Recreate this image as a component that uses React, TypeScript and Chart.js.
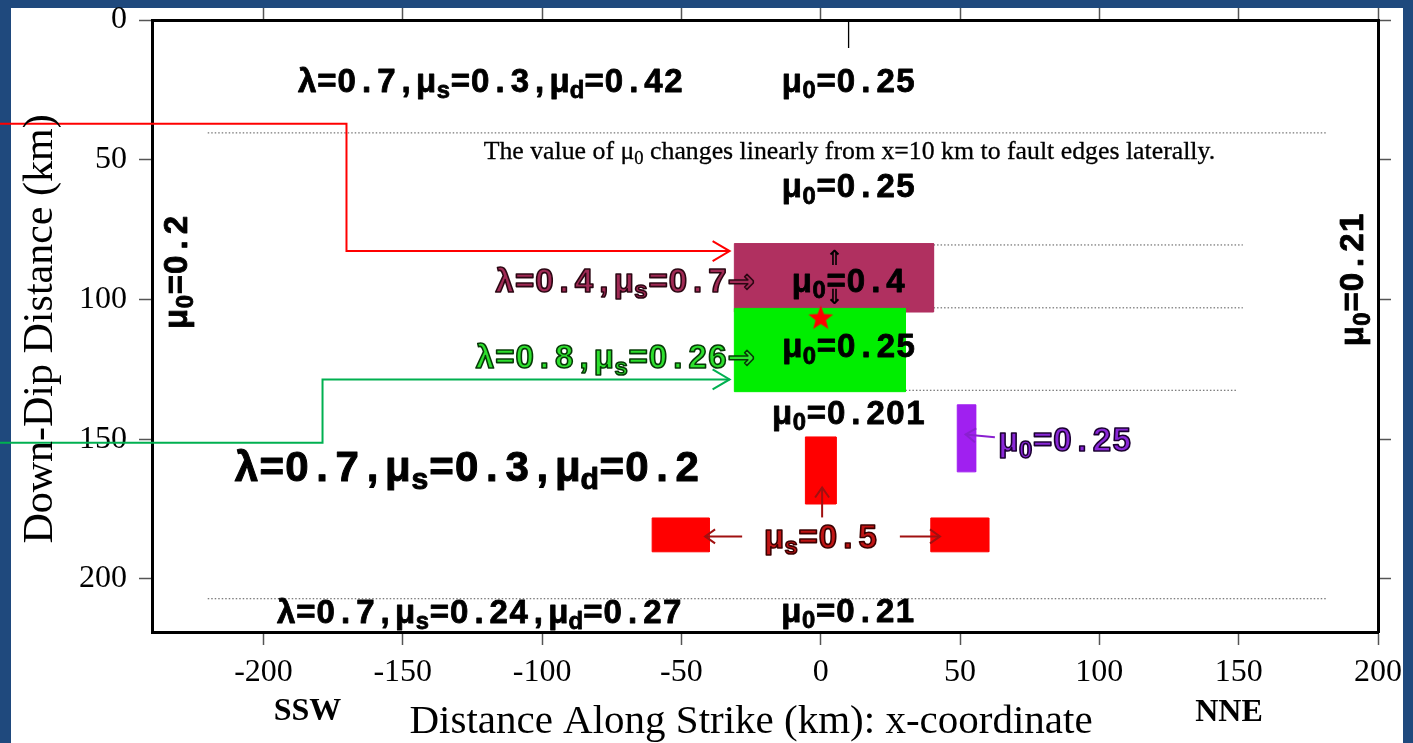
import React, { useEffect, useRef } from 'react';
import { Chart, registerables } from 'chart.js';

Chart.register(...registerables);

// ---------------- data (km) ----------------
const X_TICKS = [-200, -150, -100, -50, 0, 50, 100, 150, 200];
const Y_TICKS = [0, 50, 100, 150, 200];
const X_MIN = -240;
const X_MAX = 200;
const Y_MIN = 0;
const Y_MAX = 219;

// fault patches: maroon, green, red (top), red (left), red (right), purple
const PATCH_X0 = [-31, -31, -5.5, -60.5, 39.5, 49];
const PATCH_X1 = [40.5, 30.4, 5.5, -40, 60.3, 55.6];
const PATCH_Y0 = [80, 103.2, 149.2, 178.2, 178.2, 137.7];
const PATCH_Y1 = [104.5, 133, 173.2, 190.3, 190.3, 161.7];

// dotted boundaries
const DOT_Y = [40.4, 80.5, 103, 132.5, 207.1];
const DOT_X0 = [-220, 40.5, 40.5, 30.4, -220];
const DOT_X1 = [181.5, 151.5, 151.5, 149.5, 181.5];

// x = 10 km marker
const MARK_X = [10, 10];
const MARK_Y = [0, 10];

// hypocentre
const STAR_X = [0];
const STAR_Y = [106.8];

// connectors
const RED_X = [-300, -170.2, -170.2, -32.7];
const RED_Y = [37.1, 37.1, 82.7, 82.7];
const GREEN_X = [-300, -178.8, -178.8, -32.7];
const GREEN_Y = [151.3, 151.3, 128.6, 128.6];

// small arrows
const ARROW_X0 = [-28.2, 28.4, 0.5, 62.5];
const ARROW_Y0 = [184.8, 184.8, 178, 149.3];
const ARROW_X1 = [-41.5, 42.8, 0.5, 52];
const ARROW_Y1 = [184.8, 184.8, 167.3, 148.3];

// labels ("_x" = subscript x)
const LABEL_TEXT = [
  'λ=0.7,μ_s=0.3,μ_d=0.42',
  'μ_0=0.25',
  'μ_0=0.25',
  'μ_0=0.2',
  'μ_0=0.21',
  'λ=0.4,μ_s=0.7→',
  'μ_0=0.4',
  'λ=0.8,μ_s=0.26→',
  'μ_0=0.25',
  'μ_0=0.201',
  'μ_0=0.25',
  'λ=0.7,μ_s=0.3,μ_d=0.2',
  'μ_s=0.5',
  'λ=0.7,μ_s=0.24,μ_d=0.27',
  'μ_0=0.21',
];
const LABEL_X = [-118.6, 10, 10, -227.5, 194.6, -23.6, 10, -23.6, 10.1, 10, 63.7, -127, 0, -122.6, 9.8];
const LABEL_Y = [25.6, 25.6, 63.5, 90.2, 92.9, 97.2, 97.2, 124.5, 120.7, 144.4, 154.4, 164.9, 188.8, 215.7, 215.3];

const NOTE_TEXT = 'The value of μ_0 changes linearly from x=10 km to fault edges laterally.';
const NOTE_X = 10.3;
const NOTE_Y = 49.7;

const DBL_TEXT = ['⇑', '⇓'];
const DBL_X = [5, 5];
const DBL_Y = [85.7, 99.6];

const X_TITLE = 'Distance Along Strike (km): x-coordinate';
const Y_TITLE = 'Down-Dip Distance (km)';
const DIR_TEXT = ['SSW', 'NNE'];

// ---------------- styles ----------------
const PATCH_COLORS = ['#b03060', '#00ee00', '#ff0000', '#ff0000', '#ff0000', '#a020f0'];
const PATCH_ORDER = [4, 3, 3, 3, 3, 3];
const ARROW_COLORS = ['#a01010', '#a01010', '#a01010', '#8a20d0'];

type LStyle = { size: number; align: 'left' | 'center' | 'right'; fill: string; stroke: string; sw: number; rot?: boolean };
const B: LStyle = { size: 33, align: 'center', fill: '#000', stroke: '#000', sw: 0.8 };
const LABEL_STYLE: LStyle[] = [
  B,
  B,
  B,
  { ...B, rot: true },
  { ...B, rot: true },
  { size: 33, align: 'right', fill: '#a02a55', stroke: '#2a0612', sw: 1.6 },
  B,
  { size: 33, align: 'right', fill: '#2ee02e', stroke: '#063806', sw: 1.6 },
  B,
  B,
  { size: 33, align: 'left', fill: '#8a28d8', stroke: '#1a0030', sw: 1.6 },
  { ...B, size: 42, sw: 1 },
  { size: 33, align: 'center', fill: '#c01515', stroke: '#3a0000', sw: 1.6 },
  B,
  B,
];

const SANS = '"Liberation Sans", Arial, sans-serif';
const ARROW_FONT = '"DejaVu Sans", sans-serif';
const SERIF = '"Liberation Serif", "Times New Roman", serif';
const BLUE = '#1f497d';

function parseRich(s: string) {
  const segs: { t: string; sub: boolean }[] = [];
  let cur = '';
  for (let i = 0; i < s.length; i++) {
    if (s[i] === '_' && i + 1 < s.length) {
      if (cur) segs.push({ t: cur, sub: false });
      cur = '';
      segs.push({ t: s[i + 1], sub: true });
      i++;
    } else cur += s[i];
  }
  if (cur) segs.push({ t: cur, sub: false });
  return segs;
}

// draws text; mono = true puts every glyph in a fixed-width cell (typewriter look)
function drawRich(
  ctx: CanvasRenderingContext2D,
  text: string,
  x: number,
  y: number,
  size: number,
  family: string,
  weight: string,
  align: 'left' | 'center' | 'right',
  fill: string,
  stroke: string | undefined,
  sw: number | undefined,
  rot: boolean | undefined,
  mono: boolean
) {
  const segs = parseRich(text);
  const subSize = size * 0.72;
  const fontFor = (sub: boolean, ch?: string) =>
    `${weight} ${(sub ? subSize : size).toFixed(1)}px ${ch === '→' ? ARROW_FONT : family}`;
  type G = { t: string; sub: boolean; w: number; gw: number; f: string };
  const glyphs: G[] = [];
  segs.forEach((sg) => {
    if (mono) {
      for (const ch of sg.t) {
        const f = fontFor(sg.sub, ch);
        ctx.font = f;
        const gw = ctx.measureText(ch).width;
        const cell = (sg.sub ? subSize : size) * 0.6;
        glyphs.push({ t: ch, sub: sg.sub, w: Math.max(cell, gw), gw, f });
      }
    } else {
      const f = fontFor(sg.sub);
      ctx.font = f;
      const gw = ctx.measureText(sg.t).width;
      glyphs.push({ t: sg.t, sub: sg.sub, w: gw, gw, f });
    }
  });
  const w = glyphs.reduce((a, g) => a + g.w, 0);
  let cx = align === 'center' ? -w / 2 : align === 'right' ? -w : 0;
  ctx.save();
  ctx.translate(x, y);
  if (rot) ctx.rotate(-Math.PI / 2);
  ctx.textBaseline = 'alphabetic';
  ctx.textAlign = 'left';
  ctx.lineJoin = 'round';
  glyphs.forEach((g) => {
    ctx.font = g.f;
    const dy = g.sub ? size * 0.2 : 0;
    const gx = cx + (g.w - g.gw) / 2;
    ctx.fillStyle = fill;
    ctx.fillText(g.t, gx, dy);
    if (stroke && sw) {
      ctx.strokeStyle = stroke;
      ctx.lineWidth = sw;
      ctx.strokeText(g.t, gx, dy);
    }
    cx += g.w;
  });
  ctx.restore();
}

function chevron(ctx: CanvasRenderingContext2D, x1: number, y1: number, x2: number, y2: number, len: number, half: number) {
  const a = Math.atan2(y2 - y1, x2 - x1);
  const c = Math.cos(a);
  const s = Math.sin(a);
  ctx.beginPath();
  ctx.moveTo(x2 - len * c + half * s, y2 - len * s - half * c);
  ctx.lineTo(x2, y2);
  ctx.lineTo(x2 - len * c - half * s, y2 - len * s + half * c);
  ctx.stroke();
}

function makeStar(r: number) {
  const c = document.createElement('canvas');
  c.width = c.height = 2 * r + 2;
  const g = c.getContext('2d')!;
  g.fillStyle = '#ff0000';
  g.beginPath();
  for (let i = 0; i < 10; i++) {
    const rr = i % 2 === 0 ? r : r * 0.42;
    const a = -Math.PI / 2 + (i * Math.PI) / 5;
    g.lineTo(r + 1 + rr * Math.cos(a), r + 1 + rr * Math.sin(a));
  }
  g.closePath();
  g.fill();
  return c;
}

const pts = (xs: number[], ys: number[]) => xs.map((x, i) => ({ x, y: ys[i] }));

const annPlugin = {
  id: 'annotations',
  beforeDraw(chart: any) {
    const ctx: CanvasRenderingContext2D = chart.ctx;
    ctx.save();
    ctx.fillStyle = BLUE;
    ctx.fillRect(0, 0, chart.width, chart.height);
    ctx.fillStyle = '#ffffff';
    ctx.fillRect(11, 8, 1392, chart.height - 8);
    ctx.restore();
  },
  afterDatasetsDraw(chart: any) {
    const ctx: CanvasRenderingContext2D = chart.ctx;
    const sx = (v: number) => chart.scales.x.getPixelForValue(v);
    const sy = (v: number) => chart.scales.y.getPixelForValue(v);
    ctx.save();
    ctx.lineCap = 'butt';
    ctx.lineJoin = 'miter';
    // connector heads
    const heads: [number[], number[], string][] = [
      [RED_X, RED_Y, '#ff0000'],
      [GREEN_X, GREEN_Y, '#00b050'],
    ];
    heads.forEach(([xs, ys, col]) => {
      const n = xs.length;
      ctx.strokeStyle = col;
      ctx.lineWidth = 2;
      chevron(ctx, sx(xs[n - 2]), sy(ys[n - 2]), sx(xs[n - 1]), sy(ys[n - 1]), 17, 10);
    });
    // small arrows
    ARROW_X0.forEach((_, i) => {
      const x1 = sx(ARROW_X0[i]);
      const y1 = sy(ARROW_Y0[i]);
      const x2 = sx(ARROW_X1[i]);
      const y2 = sy(ARROW_Y1[i]);
      ctx.strokeStyle = ARROW_COLORS[i];
      ctx.lineWidth = 2;
      ctx.beginPath();
      ctx.moveTo(x1, y1);
      ctx.lineTo(x2, y2);
      ctx.stroke();
      chevron(ctx, x1, y1, x2, y2, 10, 7);
    });
    // labels
    LABEL_TEXT.forEach((t, i) => {
      const st = LABEL_STYLE[i];
      drawRich(ctx, t, sx(LABEL_X[i]), sy(LABEL_Y[i]), st.size, SANS, 'bold', st.align, st.fill, st.stroke, st.sw, st.rot, true);
    });
    drawRich(ctx, NOTE_TEXT, sx(NOTE_X), sy(NOTE_Y), 25.8, SERIF, 'normal', 'center', '#000', '#000', 0.3, false, false);
    ctx.fillStyle = '#000';
    ctx.font = 'bold 21px "DejaVu Sans", sans-serif';
    ctx.textAlign = 'center';
    ctx.textBaseline = 'middle';
    DBL_TEXT.forEach((t, i) => ctx.fillText(t, sx(DBL_X[i]), sy(DBL_Y[i])));
    ctx.restore();
  },
  afterDraw(chart: any) {
    const ctx: CanvasRenderingContext2D = chart.ctx;
    const area = chart.chartArea;
    ctx.save();
    ctx.fillStyle = '#000';
    ctx.textBaseline = 'alphabetic';
    ctx.textAlign = 'center';
    ctx.font = `41px ${SERIF}`;
    ctx.fillText(X_TITLE, 751, 733);
    ctx.save();
    ctx.translate(52, (area.top + area.bottom) / 2 + 3);
    ctx.rotate(-Math.PI / 2);
    ctx.font = `42px ${SERIF}`;
    ctx.fillText(Y_TITLE, 0, 0);
    ctx.restore();
    ctx.font = `bold 32px ${SERIF}`;
    ctx.fillText(DIR_TEXT[0], 307.5, 720);
    ctx.fillText(DIR_TEXT[1], 1229, 721);
    // right page frame
    ctx.fillStyle = BLUE;
    ctx.fillRect(1403, 0, chart.width - 1403, chart.height);
    ctx.restore();
  },
};

export default function App() {
  const ref = useRef<HTMLCanvasElement>(null);
  useEffect(() => {
    const canvas = ref.current!;
    const star = makeStar(13);
    const base = { pointRadius: 0, pointHoverRadius: 0, tension: 0, xAxisID: 'x', yAxisID: 'y', clip: false as any, fill: false };
    const datasets: any[] = [];
    datasets.push({ ...base, data: pts(STAR_X, STAR_Y), showLine: false, pointStyle: star, pointRadius: 12, pointHoverRadius: 12, order: 0 });
    datasets.push({ ...base, data: pts(RED_X, RED_Y), borderColor: '#ff0000', borderWidth: 2, borderJoinStyle: 'miter', order: 1 });
    datasets.push({ ...base, data: pts(GREEN_X, GREEN_Y), borderColor: '#00b050', borderWidth: 2, borderJoinStyle: 'miter', order: 1 });
    datasets.push({ ...base, data: pts(MARK_X, MARK_Y), borderColor: '#000', borderWidth: 1.3, order: 2 });
    PATCH_X0.forEach((_, i) => {
      const xs = [PATCH_X0[i], PATCH_X1[i], PATCH_X1[i], PATCH_X0[i], PATCH_X0[i]];
      const ys = [PATCH_Y0[i], PATCH_Y0[i], PATCH_Y1[i], PATCH_Y1[i], PATCH_Y0[i]];
      datasets.push({
        ...base,
        data: pts(xs, ys),
        fill: 'shape',
        backgroundColor: PATCH_COLORS[i],
        borderColor: PATCH_COLORS[i],
        borderWidth: 1,
        order: PATCH_ORDER[i],
      });
    });
    DOT_Y.forEach((y, i) => {
      datasets.push({
        ...base,
        data: pts([DOT_X0[i], DOT_X1[i]], [y, y]),
        borderColor: '#555',
        borderWidth: 1,
        borderDash: [1.5, 2],
        order: 5,
      });
    });

    const tickFont = { family: SERIF, size: 32, lineHeight: 1.2 };
    const grid = { drawOnChartArea: false, drawTicks: true, tickLength: 13, tickColor: '#555', tickWidth: 1.5 };
    const border = { display: true, color: '#000', width: 3 };
    const xTicks = (s: any) => {
      s.ticks = X_TICKS.map((v) => ({ value: v }));
    };
    const yTicks = (s: any) => {
      s.ticks = Y_TICKS.map((v) => ({ value: v }));
    };
    const zeroPad = (s: any) => {
      s.paddingLeft = 0;
      s.paddingRight = 0;
      s.paddingTop = 0;
      s.paddingBottom = 0;
    };

    const chart = new Chart(canvas, {
      type: 'line',
      data: { datasets },
      plugins: [annPlugin],
      options: {
        responsive: false,
        animation: false,
        events: [],
        layout: { padding: 0, autoPadding: false },
        plugins: { legend: { display: false }, tooltip: { enabled: false }, title: { display: false } },
        scales: {
          x: {
            type: 'linear',
            position: 'bottom',
            min: X_MIN,
            max: X_MAX,
            afterBuildTicks: xTicks,
            afterFit: (s: any) => {
              s.height = 111;
              zeroPad(s);
            },
            ticks: { font: tickFont, color: '#000', padding: 8, maxRotation: 0, autoSkip: false },
            grid,
            border,
          },
          xTop: {
            type: 'linear',
            axis: 'x',
            position: 'top',
            min: X_MIN,
            max: X_MAX,
            afterBuildTicks: xTicks,
            afterFit: (s: any) => {
              s.height = 20;
              zeroPad(s);
            },
            ticks: { display: false },
            grid: { ...grid, tickLength: 12 },
            border,
          },
          y: {
            type: 'linear',
            position: 'left',
            reverse: true,
            min: Y_MIN,
            max: Y_MAX,
            afterBuildTicks: yTicks,
            afterFit: (s: any) => {
              s.width = 152;
              zeroPad(s);
            },
            ticks: { font: tickFont, color: '#000', padding: 12, autoSkip: false },
            grid,
            border,
          },
          yRight: {
            type: 'linear',
            axis: 'y',
            position: 'right',
            reverse: true,
            min: Y_MIN,
            max: Y_MAX,
            afterBuildTicks: yTicks,
            afterFit: (s: any) => {
              s.width = 35;
              zeroPad(s);
            },
            ticks: { display: false },
            grid,
            border,
          },
        } as any,
      } as any,
    });
    return () => chart.destroy();
  }, []);

  return (
    <div style={{ position: 'fixed', left: 0, top: 0, width: 1413, height: 743, background: BLUE }}>
      <canvas ref={ref} width={1413} height={743} style={{ display: 'block' }} />
    </div>
  );
}
